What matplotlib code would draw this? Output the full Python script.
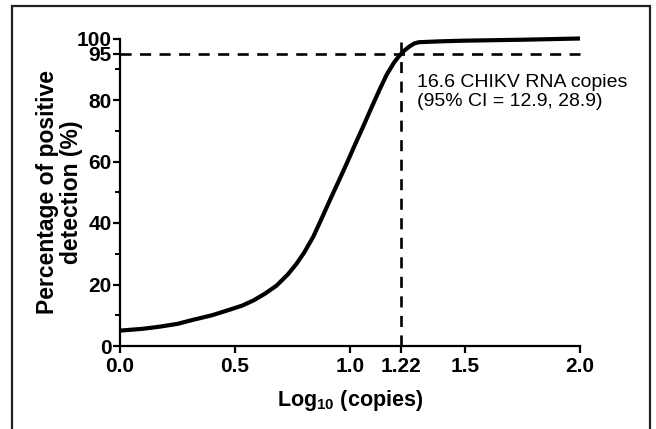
import matplotlib
matplotlib.use("Agg")
import matplotlib.pyplot as plt
from matplotlib.patches import Rectangle
from matplotlib.ticker import FixedLocator

plt.rcParams['font.family'] = ['Liberation Sans', 'DejaVu Sans']
plt.rcParams['mathtext.default'] = 'regular'

# Fitted detection curve
log_copies = [0.0, 0.1, 0.174, 0.25, 0.317, 0.4, 0.464, 0.53, 0.58, 0.63, 0.68, 0.73,
              0.768, 0.80, 0.84, 0.88, 0.913, 0.95, 0.986, 1.02, 1.058, 1.095, 1.13,
              1.16, 1.19, 1.21, 1.235, 1.26, 1.28, 1.30, 1.4, 1.5, 1.75, 2.0]
pct_positive = [5.0, 5.6, 6.3, 7.2, 8.5, 10.0, 11.5, 13.1, 14.8, 17.0, 19.6, 23.3,
                26.8, 30.3, 35.5, 42.0, 47.5, 53.5, 59.4, 65.2, 71.5, 77.8, 83.6,
                88.3, 92.0, 94.0, 96.0, 97.5, 98.4, 98.8, 99.1, 99.3, 99.6, 100.0]

lod_x = 1.22
lod_y = 95
annotation = "16.6 CHIKV RNA copies\n(95% CI = 12.9, 28.9)"

x_ticks = [0.0, 0.5, 1.0, 1.22, 1.5, 2.0]
x_ticklabels = ["0.0", "0.5", "1.0", "1.22", "1.5", "2.0"]
y_ticks = [0, 20, 40, 60, 80, 95, 100]
y_minor = [10, 30, 50, 70, 90]

fig = plt.figure(figsize=(6.56, 4.29), dpi=100)
ax = fig.add_axes([120/656, 1-346/429, 460/656, (346-38.5)/429])

ax.plot(log_copies, pct_positive, color='black', lw=3.0, solid_capstyle='butt',
        clip_on=False, zorder=3)
ax.plot([0, 2.0], [lod_y, lod_y], color='black', lw=1.9, linestyle=(0, (4.2, 3.2)),
        clip_on=False, zorder=2)
ax.plot([lod_x, lod_x], [0, 100], color='black', lw=1.9, linestyle=(0, (4.2, 3.2)),
        clip_on=False, zorder=2)

ax.text(1.291, 88.3, annotation, fontsize=14, va='top', ha='left', linespacing=1.1)

ax.set_xlim(0, 2.0)
ax.set_ylim(0, 100)
ax.set_xticks(x_ticks)
ax.set_xticklabels(x_ticklabels, fontsize=15, fontweight='bold')
ax.set_yticks(y_ticks)
ax.set_yticklabels([str(v) for v in y_ticks], fontsize=15, fontweight='bold')
ax.yaxis.set_minor_locator(FixedLocator(y_minor))

for s in ['top', 'right']:
    ax.spines[s].set_visible(False)
for s in ['left', 'bottom']:
    ax.spines[s].set_linewidth(1.6)
ax.tick_params(axis='x', which='major', length=5, width=1.6, pad=3)
ax.tick_params(axis='y', which='major', length=5, width=1.6, pad=1)
ax.tick_params(axis='y', which='minor', length=3.5, width=1.4)

ax.set_ylabel("Percentage of positive\ndetection (%)", fontsize=16.5, fontweight='bold',
              linespacing=1.05)
ax.yaxis.set_label_coords(-0.08, 0.5)
ax.set_xlabel(r"Log$_{10}$ (copies)", fontsize=15.5, fontweight='bold')
ax.xaxis.set_label_coords(0.5, -0.135)

fig.patches.append(Rectangle((12/656, -0.05), (650-12)/656, 1-6/429+0.05,
                             transform=fig.transFigure, fill=False,
                             edgecolor='#222222', lw=1.6, zorder=0))

fig.savefig("out.png", dpi=100)
